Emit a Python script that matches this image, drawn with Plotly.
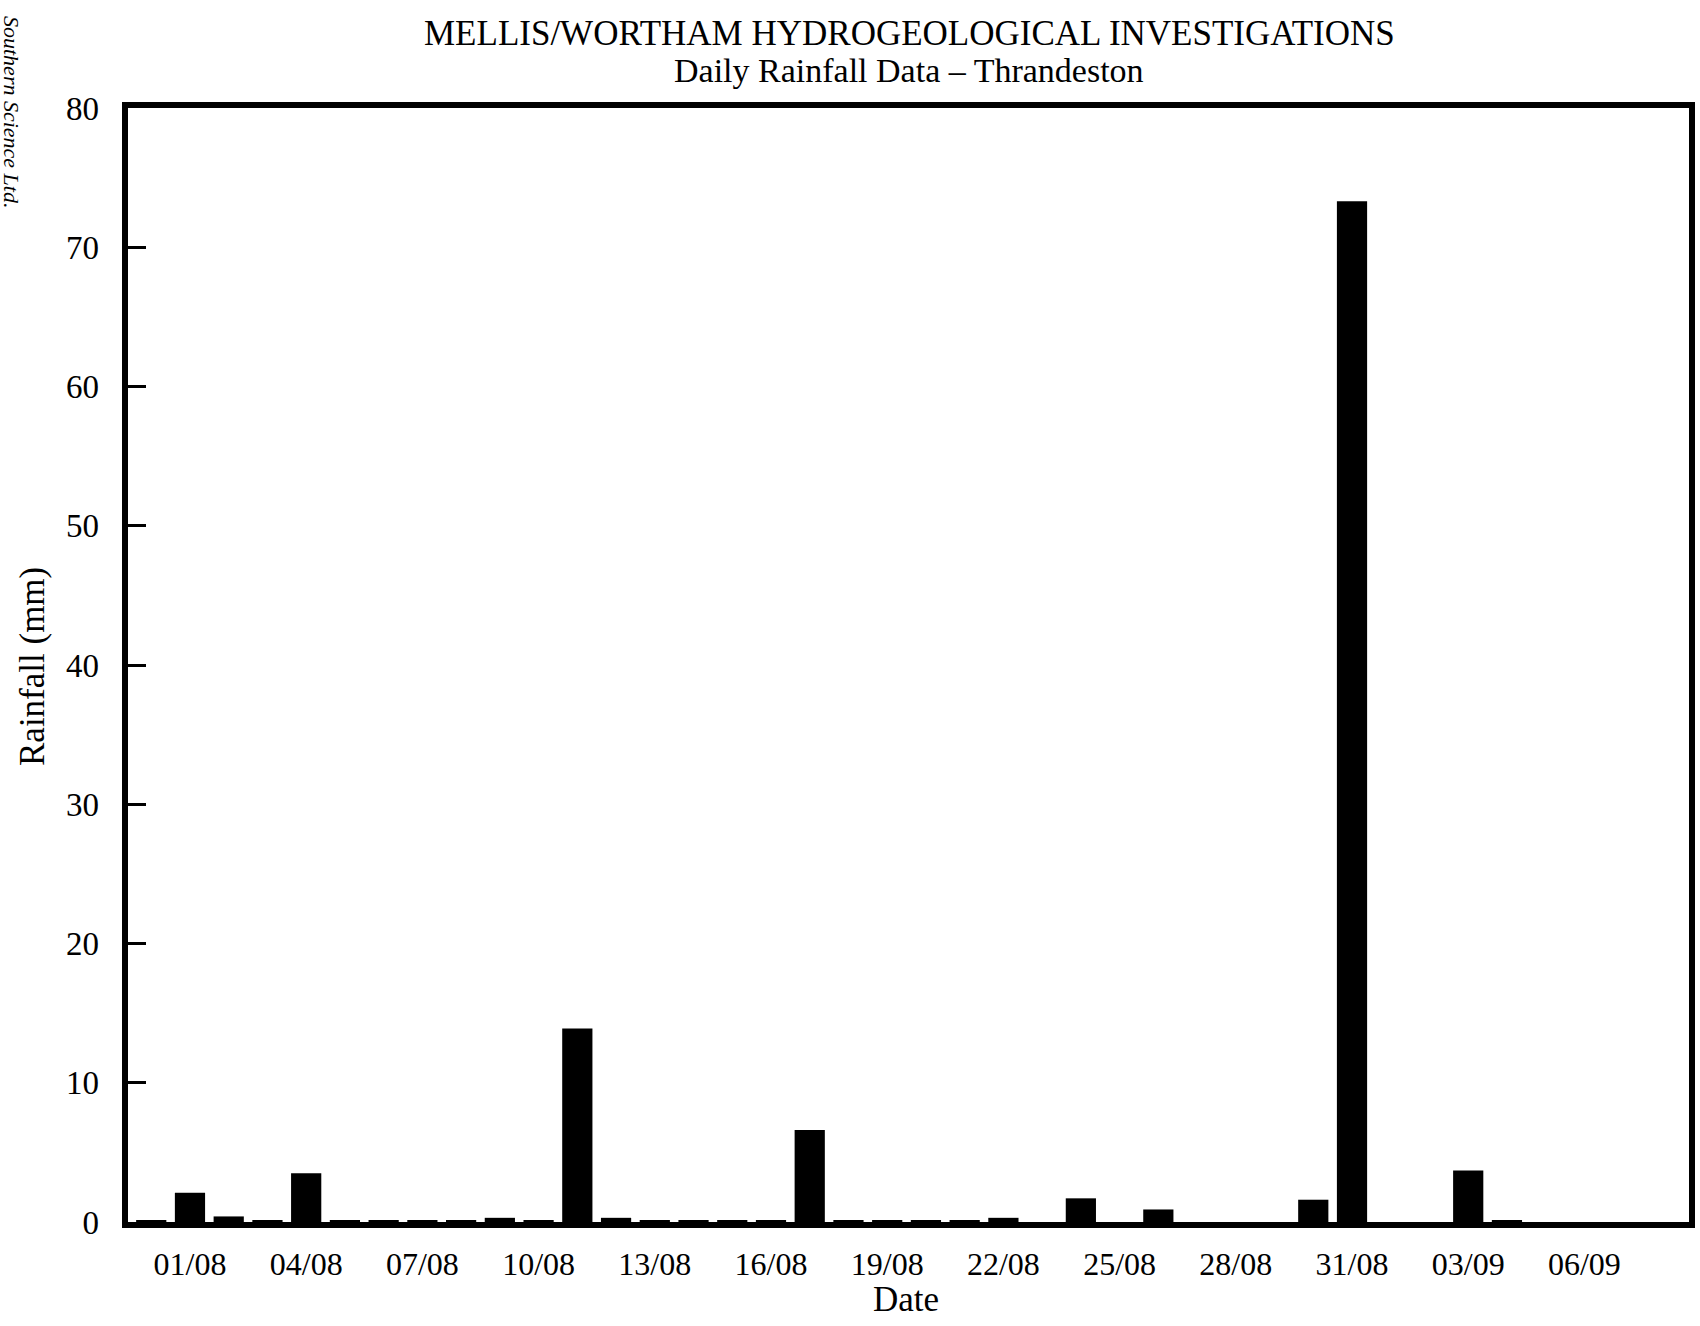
import plotly.graph_objects as go

# Daily rainfall at Thrandeston, late July to early September (mm)
dates = [
    "30/07", "31/07",
    "01/08", "02/08", "03/08", "04/08", "05/08", "06/08", "07/08", "08/08",
    "09/08", "10/08", "11/08", "12/08", "13/08", "14/08", "15/08", "16/08",
    "17/08", "18/08", "19/08", "20/08", "21/08", "22/08", "23/08", "24/08",
    "25/08", "26/08", "27/08", "28/08", "29/08", "30/08", "31/08",
    "01/09", "02/09", "03/09", "04/09", "05/09", "06/09", "07/09", "08/09",
]
rainfall_mm = [
    0.1, 0.1,
    2.1, 0.4, 0.1, 3.5, 0.1, 0.1, 0.1, 0.1,
    0.3, 0.1, 13.9, 0.3, 0.1, 0.1, 0.1, 0.1,
    6.6, 0.1, 0.1, 0.1, 0.1, 0.3, 0.0, 1.7,
    0.0, 0.9, 0.0, 0.0, 0.0, 1.6, 73.3,
    0.0, 0.0, 3.7, 0.1, 0.0, 0.0, 0.0, 0.0,
]
tick_labels = ["01/08", "04/08", "07/08", "10/08", "13/08", "16/08", "19/08",
               "22/08", "25/08", "28/08", "31/08", "03/09", "06/09"]
y_ticks = [0, 10, 20, 30, 40, 50, 60, 70, 80]

serif = "Liberation Serif, Times New Roman, serif"

fig = go.Figure(
    go.Bar(
        x=dates,
        y=rainfall_mm,
        width=0.78,
        marker=dict(color="black", line=dict(width=0)),
    )
)

W, H = 1700, 1326
L, R, T, B = 128, 11, 108, 104

fig.update_layout(
    width=W,
    height=H,
    margin=dict(l=L, r=R, t=T, b=B, autoexpand=False),
    paper_bgcolor="white",
    plot_bgcolor="white",
    showlegend=False,
    font=dict(family=serif, color="black", size=32),
)

fig.update_xaxes(
    type="category",
    categoryorder="array",
    categoryarray=dates,
    range=[0.4, 40.7],
    tickmode="array",
    tickvals=tick_labels,
    ticktext=tick_labels,
    ticks="",
    ticklabelstandoff=9,
    tickfont=dict(family=serif, size=32, color="black"),
    showgrid=False,
    zeroline=False,
    showline=True,
    linecolor="black",
    linewidth=6,
    mirror=True,
)

# Trailing en space keeps the labels clear of the axis line
fig.update_yaxes(
    range=[0, 80],
    tickmode="array",
    tickvals=y_ticks,
    ticktext=[f"{v}\u2002" for v in y_ticks],
    ticks="inside",
    ticklen=18,
    tickwidth=3,
    tickcolor="black",
    tickfont=dict(family=serif, size=33, color="black"),
    showgrid=False,
    zeroline=False,
    showline=True,
    linecolor="black",
    linewidth=6,
    mirror=True,
)

plot_w = W - L - R
plot_h = H - T - B


def px_x(px):
    return (px - L) / plot_w


def px_y(py):
    return (H - B - py) / plot_h


annotations = [
    dict(text="MELLIS/WORTHAM HYDROGEOLOGICAL INVESTIGATIONS",
         x=px_x(909), y=px_y(33), font=dict(size=35)),
    dict(text="Daily Rainfall Data \u2013 Thrandeston",
         x=px_x(909), y=px_y(71), font=dict(size=34)),
    dict(text="Date", x=px_x(906), y=px_y(1299), font=dict(size=35)),
    dict(text="Rainfall (mm)", x=px_x(32), y=px_y(667), textangle=-90,
         font=dict(size=35)),
    dict(text="<i>Southern Science Ltd.</i>", x=px_x(11), y=px_y(112),
         textangle=90, font=dict(size=22)),
]
for a in annotations:
    a.update(xref="paper", yref="paper", showarrow=False,
             xanchor="center", yanchor="middle")
    a["font"] = dict(family=serif, color="black", **a["font"])

fig.update_layout(annotations=annotations)

fig.write_html("out.html")
